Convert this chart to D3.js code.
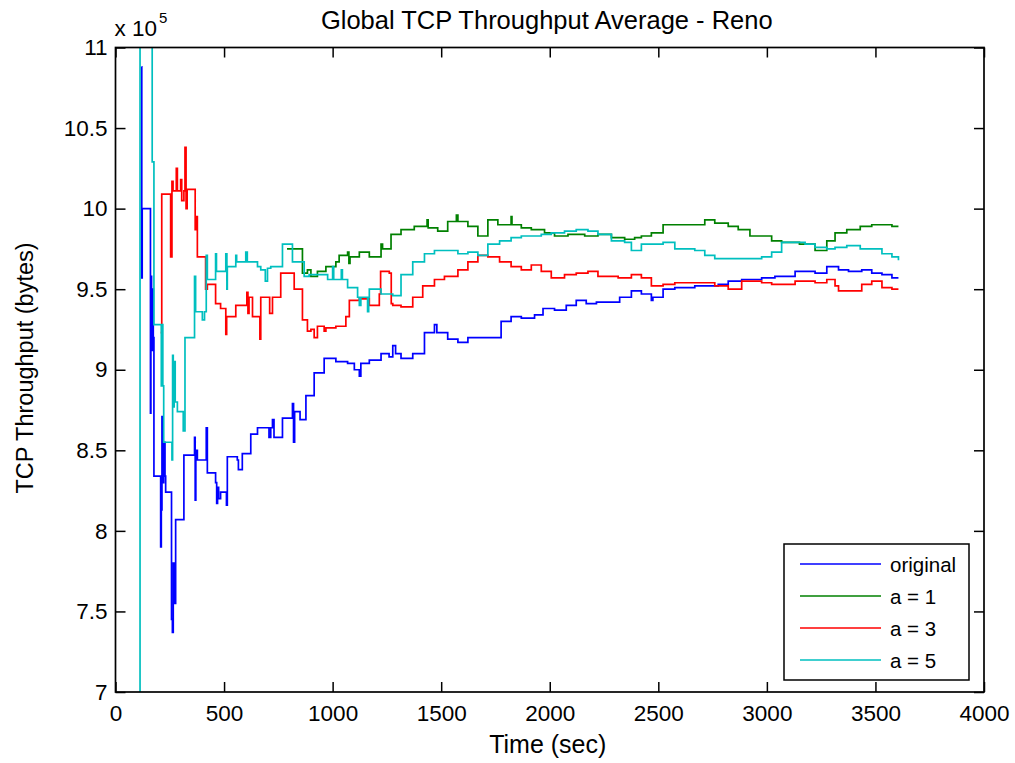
<!DOCTYPE html>
<html>
<head>
<meta charset="utf-8">
<script src="https://cdn.jsdelivr.net/npm/d3@7"></script>
<style>
  html, body { margin: 0; padding: 0; background: #fff; }
  svg { display: block; font-family: "Liberation Sans", Arial, sans-serif; }
  .tick text { font-size: 22.5px; fill: #000; }
</style>
</head>
<body>
<div id="chart"></div>
<script>
// time (sec), throughput (x 1e5 bytes)
const originalSeries = [
  [120, 10.88], [121, 9.57], [123, 10.0], [161, 10.0], [161, 8.73], [163, 9.58], [166, 9.12], [170, 9.5],
  [174, 9.2], [177, 8.34], [205, 8.34], [208, 7.90], [211, 8.13], [214, 8.71], [217, 8.30], [222, 8.55],
  [228, 8.34], [231, 8.24], [258, 7.45], [262, 7.37], [266, 7.80], [270, 7.55], [277, 8.07], [312, 8.07],
  [315, 8.47], [361, 8.47], [364, 8.58], [367, 8.19], [370, 8.50], [377, 8.44], [407, 8.44], [418, 8.64],
  [423, 8.36], [461, 8.30], [466, 8.17], [470, 8.27], [475, 8.20], [484, 8.24], [511, 8.16], [515, 8.46],
  [561, 8.44], [566, 8.38], [584, 8.48], [623, 8.60], [654, 8.64], [707, 8.58], [715, 8.64], [723, 8.69],
  [730, 8.58], [769, 8.70], [815, 8.79], [820, 8.55], [825, 8.74], [850, 8.69], [877, 8.84], [915, 8.98],
  [961, 9.07], [1015, 9.05], [1069, 9.04], [1100, 9.00], [1123, 8.96], [1130, 9.04], [1169, 9.06], [1223, 9.10],
  [1260, 9.08], [1277, 9.15], [1290, 9.10], [1315, 9.07], [1369, 9.10], [1423, 9.23], [1469, 9.28], [1480, 9.23],
  [1530, 9.19], [1577, 9.17], [1623, 9.20], [1669, 9.20], [1715, 9.20], [1776, 9.30], [1822, 9.33], [1869, 9.32],
  [1930, 9.34], [1969, 9.38], [2022, 9.37], [2076, 9.40], [2122, 9.43], [2168, 9.41], [2215, 9.42], [2322, 9.45],
  [2376, 9.49], [2422, 9.47], [2468, 9.43], [2475, 9.45], [2522, 9.50], [2576, 9.51], [2668, 9.52], [2776, 9.53],
  [2822, 9.55], [2884, 9.56], [2976, 9.57], [3037, 9.58], [3130, 9.61], [3222, 9.60], [3276, 9.64], [3330, 9.62],
  [3376, 9.61], [3437, 9.62], [3483, 9.60], [3530, 9.59], [3576, 9.57], [3606, 9.57]
];

const a1Series = [
  [790, 9.75], [861, 9.60], [884, 9.62], [900, 9.58], [930, 9.61], [969, 9.64], [1015, 9.67], [1030, 9.71],
  [1069, 9.73], [1075, 9.66], [1080, 9.70], [1123, 9.73], [1169, 9.70], [1223, 9.78], [1230, 9.75], [1269, 9.84],
  [1315, 9.87], [1376, 9.89], [1435, 9.93], [1440, 9.88], [1484, 9.86], [1530, 9.92], [1570, 9.96], [1577, 9.92],
  [1623, 9.89], [1669, 9.83], [1715, 9.93], [1761, 9.90], [1822, 9.95], [1826, 9.90], [1869, 9.88], [1915, 9.87],
  [1976, 9.85], [2022, 9.83], [2084, 9.84], [2161, 9.83], [2222, 9.84], [2284, 9.82], [2345, 9.81], [2391, 9.82],
  [2422, 9.83], [2468, 9.85], [2522, 9.90], [2714, 9.93], [2760, 9.91], [2822, 9.89], [2868, 9.87], [2922, 9.83],
  [3022, 9.80], [3068, 9.79], [3150, 9.78], [3222, 9.74], [3276, 9.80], [3314, 9.85], [3368, 9.87], [3430, 9.89],
  [3483, 9.90], [3530, 9.90], [3576, 9.89], [3606, 9.89]
];

const a3Series = [
  [208, 9.23], [213, 10.09], [250, 10.09], [254, 9.70], [260, 10.17], [265, 10.11], [280, 10.25], [285, 10.11],
  [300, 10.18], [305, 10.05], [315, 10.11], [320, 10.38], [325, 10.0], [330, 10.12], [362, 10.12], [367, 9.87],
  [372, 9.95], [377, 9.70], [407, 9.70], [415, 9.50], [423, 9.53], [461, 9.41], [484, 9.38], [508, 9.22],
  [512, 9.33], [554, 9.40], [600, 9.40], [605, 9.48], [610, 9.35], [615, 9.45], [631, 9.33], [654, 9.33],
  [665, 9.19], [669, 9.45], [707, 9.45], [710, 9.35], [723, 9.45], [761, 9.60], [815, 9.60], [823, 9.50],
  [861, 9.31], [884, 9.24], [900, 9.25], [915, 9.20], [930, 9.27], [961, 9.24], [969, 9.26], [1015, 9.27],
  [1061, 9.33], [1077, 9.43], [1123, 9.44], [1169, 9.40], [1215, 9.47], [1221, 9.61], [1261, 9.60], [1270, 9.41],
  [1277, 9.40], [1315, 9.39], [1369, 9.45], [1415, 9.52], [1469, 9.56], [1515, 9.58], [1577, 9.62], [1623, 9.67],
  [1669, 9.71], [1715, 9.70], [1769, 9.67], [1822, 9.64], [1869, 9.62], [1915, 9.65], [1961, 9.61], [2007, 9.57],
  [2068, 9.59], [2122, 9.60], [2176, 9.61], [2222, 9.58], [2315, 9.57], [2376, 9.59], [2422, 9.57], [2468, 9.52],
  [2522, 9.53], [2576, 9.54], [2668, 9.54], [2760, 9.52], [2822, 9.50], [2884, 9.55], [2976, 9.54], [3022, 9.53],
  [3130, 9.55], [3222, 9.54], [3276, 9.56], [3314, 9.52], [3330, 9.49], [3437, 9.53], [3483, 9.55], [3530, 9.51],
  [3576, 9.50], [3606, 9.50]
];

const a5Series = [
  [112, 6.0], [113, 11.6], [169, 10.29], [177, 9.28], [208, 9.28], [211, 8.90], [215, 9.28], [218, 8.90],
  [222, 8.55], [258, 8.55], [260, 8.44], [263, 9.09], [266, 8.77], [270, 9.05], [275, 8.80], [285, 8.74],
  [312, 8.62], [320, 9.20], [361, 9.20], [364, 9.58], [369, 9.36], [400, 9.31], [410, 9.36], [418, 9.71],
  [423, 9.56], [461, 9.72], [465, 9.61], [508, 9.72], [513, 9.50], [515, 9.64], [554, 9.71], [558, 9.67],
  [600, 9.73], [607, 9.67], [654, 9.64], [669, 9.62], [690, 9.55], [700, 9.63], [715, 9.64], [769, 9.78],
  [815, 9.67], [869, 9.58], [892, 9.59], [977, 9.56], [1000, 9.64], [1005, 9.56], [1040, 9.62], [1045, 9.56],
  [1069, 9.51], [1115, 9.45], [1123, 9.40], [1130, 9.45], [1161, 9.36], [1166, 9.45], [1169, 9.50], [1223, 9.47],
  [1277, 9.46], [1315, 9.59], [1369, 9.67], [1423, 9.72], [1469, 9.74], [1577, 9.72], [1623, 9.73], [1669, 9.71],
  [1715, 9.78], [1769, 9.80], [1822, 9.82], [1869, 9.83], [1961, 9.84], [2007, 9.85], [2068, 9.86], [2122, 9.87],
  [2176, 9.86], [2222, 9.84], [2284, 9.80], [2345, 9.79], [2376, 9.74], [2422, 9.78], [2522, 9.79], [2576, 9.75],
  [2668, 9.74], [2714, 9.71], [2760, 9.69], [2976, 9.70], [3022, 9.73], [3068, 9.79], [3176, 9.78], [3222, 9.76],
  [3276, 9.75], [3314, 9.76], [3368, 9.77], [3430, 9.75], [3530, 9.72], [3576, 9.70], [3606, 9.68]
];

const seriesNames = ["original", "a = 1", "a = 3", "a = 5"];
const seriesColors = ["#0000ff", "#008000", "#ff0000", "#00bfbf"];
const xTicks = [0, 500, 1000, 1500, 2000, 2500, 3000, 3500, 4000];
const yTicks = [7, 7.5, 8, 8.5, 9, 9.5, 10, 10.5, 11];

const W = 1015, H = 763;
const M = { top: 47.5, right: 31, bottom: 71, left: 115.5 };
const iW = W - M.left - M.right;
const iH = H - M.top - M.bottom;

const svg = d3.select("#chart").append("svg")
  .attr("width", W).attr("height", H)
  .attr("viewBox", `0 0 ${W} ${H}`);

const g = svg.append("g").attr("transform", `translate(${M.left},${M.top})`);

const x = d3.scaleLinear().domain([0, 4000]).range([0, iW]);
const y = d3.scaleLinear().domain([7, 11]).range([iH, 0]);

svg.append("defs").append("clipPath").attr("id", "plot-clip")
  .append("rect").attr("width", iW).attr("height", iH);

// lines
const lineGen = d3.line().x(d => x(d[0])).y(d => y(d[1])).curve(d3.curveStepAfter);
const linesG = g.append("g").attr("clip-path", "url(#plot-clip)");
[originalSeries, a1Series, a3Series, a5Series].forEach((s, i) => {
  linesG.append("path")
    .datum(s)
    .attr("d", lineGen)
    .attr("fill", "none")
    .attr("stroke", seriesColors[i])
    .attr("stroke-width", 1.7)
    .attr("stroke-linejoin", "miter");
});

// axes, ticks pointing inward
const fmtY = d => d3.format("~g")(d);
g.append("g").attr("transform", `translate(0,${iH})`)
  .call(d3.axisBottom(x).tickValues(xTicks).tickSizeInner(-10).tickSizeOuter(0).tickPadding(13).tickFormat(d3.format("d")))
  .call(a => a.select(".domain").remove());
g.append("g")
  .call(d3.axisLeft(y).tickValues(yTicks).tickSizeInner(-10).tickSizeOuter(0).tickPadding(8).tickFormat(fmtY))
  .call(a => a.select(".domain").remove());
g.append("g")
  .call(d3.axisTop(x).tickValues(xTicks).tickSizeInner(-10).tickSizeOuter(0).tickFormat(""))
  .call(a => a.select(".domain").remove());
g.append("g").attr("transform", `translate(${iW},0)`)
  .call(d3.axisRight(y).tickValues(yTicks).tickSizeInner(-10).tickSizeOuter(0).tickFormat(""))
  .call(a => a.select(".domain").remove());
g.selectAll(".tick line").attr("stroke", "#000").attr("stroke-width", 1.5);

g.append("rect")
  .attr("width", iW).attr("height", iH)
  .attr("fill", "none").attr("stroke", "#000").attr("stroke-width", 1.7);

// exponent
const expo = svg.append("text").attr("x", M.left - 1).attr("y", 36)
  .attr("font-size", 22.5).attr("fill", "#000");
expo.append("tspan").text("x 10");
expo.append("tspan").attr("dy", -13).attr("dx", 2).attr("font-size", 15).text("5");

// title and labels
svg.append("text")
  .attr("x", M.left + iW / 2 - 3).attr("y", 29)
  .attr("text-anchor", "middle").attr("font-size", 25.5).attr("fill", "#000")
  .text("Global TCP Throughput Average - Reno");

svg.append("text")
  .attr("x", M.left + iW / 2 - 2).attr("y", 753)
  .attr("text-anchor", "middle").attr("font-size", 25).attr("fill", "#000")
  .text("Time (sec)");

svg.append("text")
  .attr("transform", `translate(33,${368}) rotate(-90)`)
  .attr("text-anchor", "middle").attr("font-size", 23.5).attr("fill", "#000")
  .text("TCP Throughput (bytes)");

// legend
const legend = svg.append("g").attr("transform", "translate(784,544)");
legend.append("rect").attr("width", 185).attr("height", 136)
  .attr("fill", "#fff").attr("stroke", "#000").attr("stroke-width", 1.5);
seriesNames.forEach((name, i) => {
  const row = legend.append("g").attr("transform", `translate(0,${20 + i * 32})`);
  row.append("line").attr("x1", 16).attr("x2", 97)
    .attr("stroke", seriesColors[i]).attr("stroke-width", 1.7);
  row.append("text").attr("x", 106).attr("y", 7.5)
    .attr("font-size", 20.5).attr("fill", "#000").text(name);
});
</script>
</body>
</html>
